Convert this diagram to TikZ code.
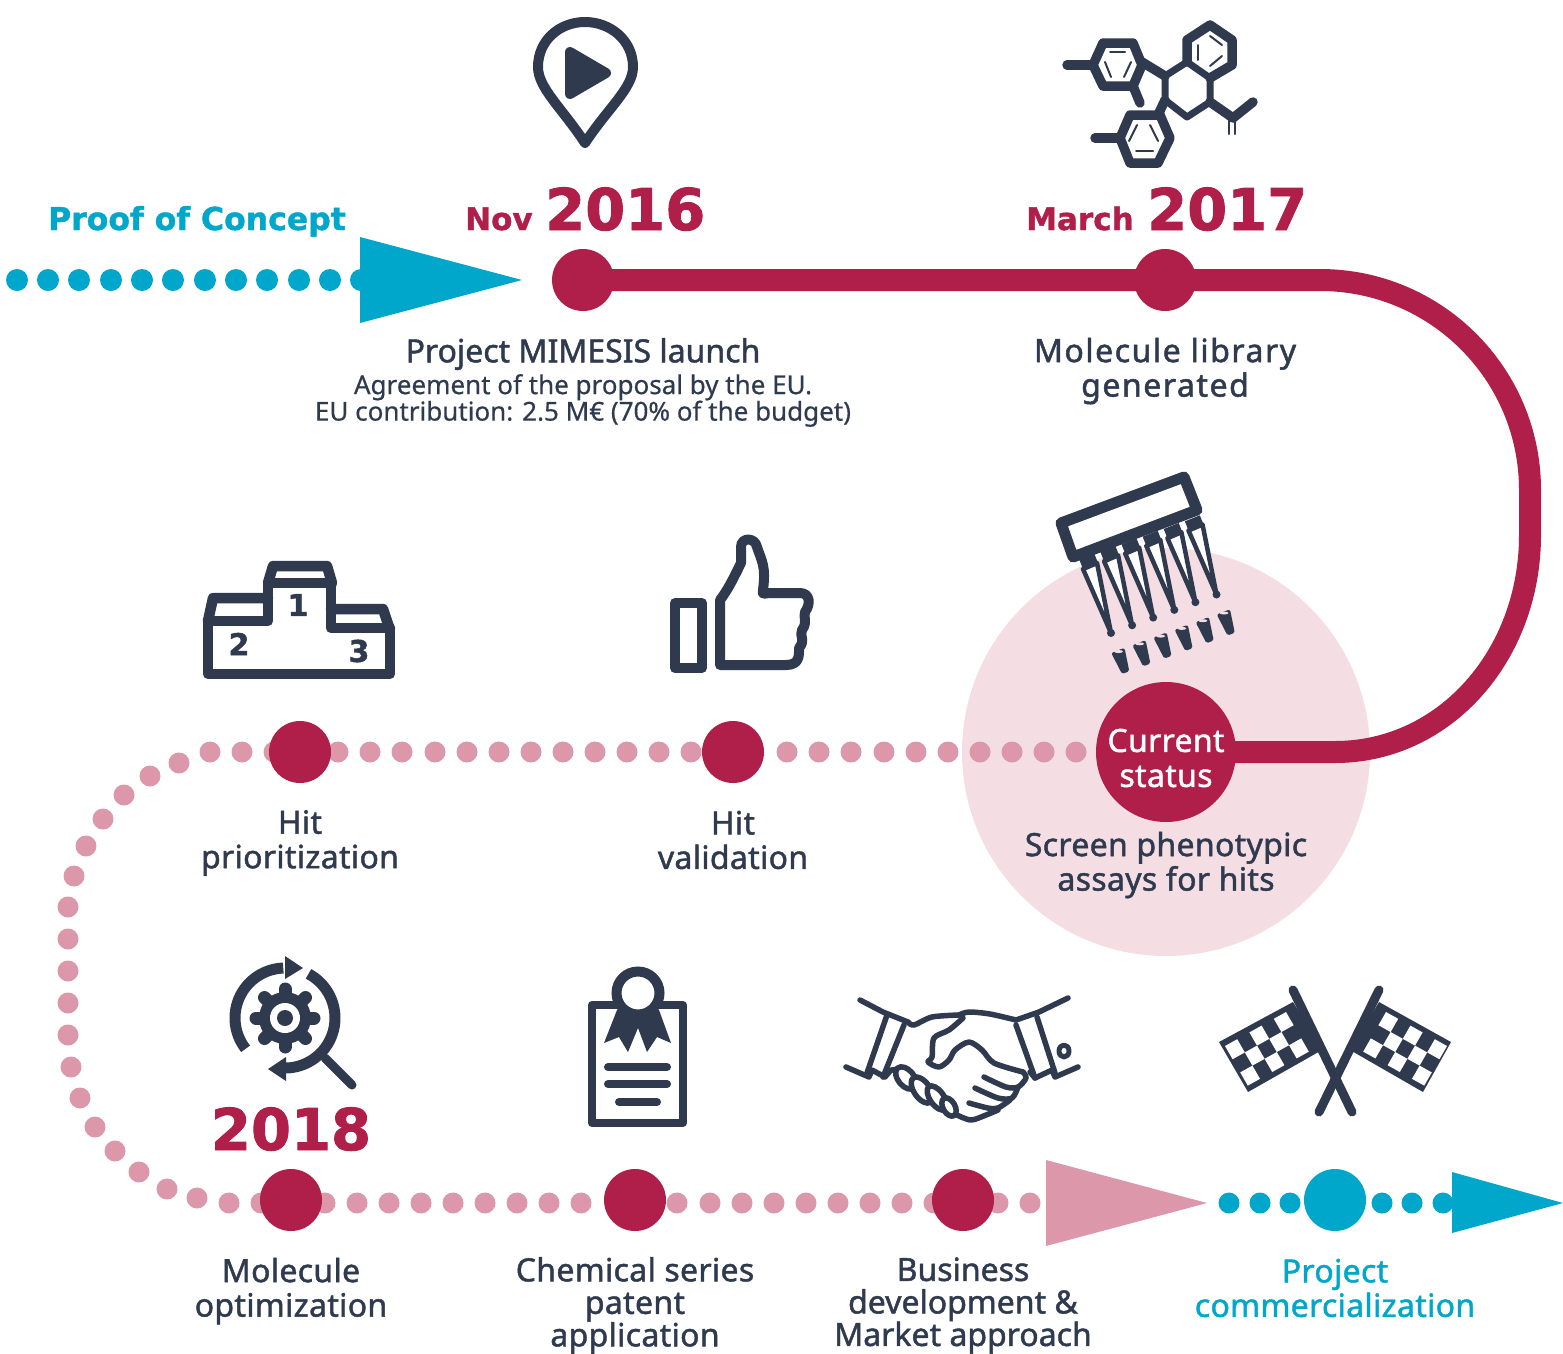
\documentclass[tikz,border=0pt]{standalone}
\usepackage{fontspec}
\setmainfont{Noto Sans}
\newfontfamily\labf{Noto Sans}[FakeBold=1.4,LetterSpace=1]
\newfontfamily\labn{Noto Sans}[FakeBold=1.4]
\newfontfamily\labw{Noto Sans}[FakeBold=1.6,LetterSpace=4.8]
\newfontfamily\subf{Noto Sans}[FakeBold=0.5]
\newfontfamily\headf{DejaVu Sans Bold}[FakeBold=1.2]
\newfontfamily\yearf{DejaVu Sans Bold}[FakeBold=1.5]
\usetikzlibrary{calc}
\definecolor{ink}{HTML}{2F3A4F}
\definecolor{crim}{HTML}{B01E4A}
\definecolor{teal2}{HTML}{00A7CB}
\definecolor{pinkd}{HTML}{DC97AA}
\definecolor{pinkb}{HTML}{F4DDE3}
\tikzset{
 mile/.style={circle,fill=crim,draw=none,minimum size=62pt,inner sep=0pt},
 milet/.style={circle,fill=teal2,draw=none,minimum size=62pt,inner sep=0pt},
 lab/.style={align=center,text=ink,font=\labf\fontsize{32}{34.5}\selectfont,inner sep=0pt},
 sublab/.style={align=center,text=ink,font=\subf\fontsize{26}{26.5}\selectfont,inner sep=0pt},
 yr/.style={text=crim,font=\yearf\fontsize{57.5}{60}\selectfont,inner sep=0pt,anchor=base west},
 mon/.style={text=crim,font=\headf\fontsize{31}{32}\selectfont,inner sep=0pt,anchor=base west},
 ic/.style={draw=ink,line width=8pt,line join=round,line cap=round},
 icf/.style={fill=ink,draw=ink,line join=round},
 thin/.style={draw=ink,line width=2pt,line cap=round},
 bond/.style={draw=ink,line width=9.5pt,line join=round,line cap=round},
 hs/.style={draw=ink,line width=5.5pt,line join=round,line cap=round},
}
\begin{document}
\begin{tikzpicture}[x=1pt,y=-1pt]
\useasboundingbox (0,0) rectangle (1563,1353);
% background disc
\fill[pinkb] (1166,752) circle (204pt);
% dotted tracks
\foreach \x in {17,48,79,111,142,173,205,236,267,299,330,361}{\fill[teal2] (\x,280) circle (11pt);}
\foreach \x in {1076,1044,1012,980,948,916,884,851,819,787,691,659,627,595,563,531,499,467,435,402,370,338,274,242,210}{\fill[pinkd] (\x,752) circle (10.5pt);}
\foreach \x/\y in {179/763,150/776,124/795,103/819,86/846,74/876,68/907,68/939,68/971,68/1003,68/1035,71/1067,80/1098,95/1127,115/1151,139/1172,167/1189,197/1198,229/1203,261/1203}{\fill[pinkd] (\x,\y) circle (10.5pt);}
\foreach \x in {325,357,389,421,453,485,517,549,581,677,710,742,774,806,838,870,902,934,998,1030}{\fill[pinkd] (\x,1203) circle (10.5pt);}
\foreach \x in {1229,1260,1290,1382,1412,1443}{\fill[teal2] (\x,1203) circle (10.5pt);}
% triangles
\coordinate (ta1) at (360,237);\coordinate (ta2) at (360,323);\coordinate (ta3) at (522,280);
\fill[teal2] (ta1)--(ta3)--(ta2)--cycle;
\fill[pinkd] (1046,1160)--(1207,1203)--(1046,1246)--cycle;
\fill[teal2] (1452,1172)--(1563,1203)--(1452,1233)--cycle;
% milestones
\coordinate (nv) at (583,280);\coordinate (mr) at (1165,280);\coordinate (cs) at (1166,752);
\draw[crim,line width=22pt] (nv)--(mr)--(1320,280) .. controls (1436,280) and (1530,374) .. (1530,490) -- (1530,535) .. controls (1530,655) and (1445,752) .. (1335,752) -- (cs);
\node[mile] (nov) at (nv) {};
\node[mile] (mar) at (mr) {};
\node[mile] (hp) at (300,752) {};
\node[mile] (hv) at (733,752) {};
\node[mile] (mo) at (291,1200) {};
\node[mile] (ch) at (635,1200) {};
\node[mile] (bd) at (963,1200) {};
\node[milet] (pc) at (1335,1200) {};
\node[circle,fill=crim,minimum size=140pt,inner sep=0pt] (cur) at (cs) {};
\node[text=white,align=center,font=\labf\fontsize{32}{35}\selectfont,inner sep=0pt] (curt) at (1166,758) {Current\\status};
% headings
\node[text=teal2,font=\headf\fontsize{31.5}{32}\selectfont,inner sep=0pt,anchor=base] (poc) at (197,230) {Proof of Concept};
\node[mon] (n1) at (465,230) {Nov};
\node[yr] (n2) at (545,230) {2016};
\node[mon] (m1) at (1026,230) {March};
\node[yr] (m2) at (1147,230) {2017};
\node[yr,anchor=base] (y18) at (291,1150) {2018};
% labels
\node[lab,font=\labn\fontsize{32}{34.5}\selectfont] (l1) at (583,354) {Project MIMESIS launch};
\node[sublab] (l1b) at (583,400.5) {Agreement of the proposal by the EU.\\EU contribution: 2.5 M€ (70\% of the budget)};
\node[lab,font=\labw\fontsize{32}{34.5}\selectfont] (l2) at (1165,371) {Molecule library\\generated};
\node[lab] (l3) at (300,843) {Hit\\prioritization};
\node[lab] (l4) at (733,840) {Hit\\validation};
\node[lab] (l5) at (1166,865) {Screen phenotypic\\assays for hits};
\node[lab] (l6) at (291,1291) {Molecule\\optimization};
\node[lab,font=\labf\fontsize{32}{32.5}\selectfont] (l7) at (635,1305.5) {Chemical series\\patent\\application};
\node[lab,font=\labn\fontsize{32}{32.5}\selectfont] (l8) at (963,1305.5) {Business\\development \&\\Market approach};
\node[lab,text=teal2] (l9) at (1335,1288) {Project\\commercialization};
% --- pin icon
\draw[ic,line width=10pt] (585,143) .. controls (562,108) and (538,88) .. (538,67) .. controls (538,40) and (560,22) .. (585,22) .. controls (610,22) and (633,40) .. (633,67) .. controls (633,88) and (608,108) .. (585,143);
\draw[icf,line width=10pt] (570,52)--(570,94)--(606,73)--cycle;
% --- molecule icon
\draw[bond] (1103,43)--(1133,43)--(1142,65)--(1133,86)--(1103,86)--(1093,65)--cycle;
\draw[bond] (1067,65)--(1093,65);
\draw[bond] (1142,62)--(1165,76);
\draw[bond] (1133,86)--(1140,103);
\draw[bond,line width=7pt] (1165,76)--(1187,62)--(1210,78)--(1210,102)--(1187,117)--(1165,100)--cycle;
\draw[bond] (1187,62)--(1187,40)--(1210,25)--(1232,40)--(1232,65)--(1210,78);
\draw[bond] (1210,102)--(1233,118)--(1253,102);
\draw[bond] (1165,100)--(1158,115);
\draw[bond] (1130,115)--(1160,115)--(1170,138)--(1158,163)--(1130,163)--(1120,138)--cycle;
\draw[bond] (1095,138)--(1120,138);
\draw[thin] (1110,52)--(1125,52);
\draw[thin] (1105,62)--(1111,77);
\draw[thin] (1131,62)--(1124,77);
\draw[thin] (1198,45)--(1198,60);
\draw[thin] (1210,36)--(1222,45);
\draw[thin] (1210,66)--(1222,56);
\draw[thin] (1137,125)--(1129,141);
\draw[thin] (1150,125)--(1158,141);
\draw[thin] (1136,151)--(1153,151);
\draw[thin] (1229,118)--(1229,134);
\draw[thin] (1235,118)--(1235,134);
% --- pipette icon
\draw[draw=ink,line width=11pt,line join=round,fill=white] (1061,523)--(1184,477)--(1197,510)--(1073,557)--cycle;
\foreach \i in {0,...,5}{
 \begin{scope}[shift={({21.1*\i},{-7.7*\i})}]
  \draw[draw=ink,line width=4.5pt,line join=round,fill=white] (1083,569)--(1097,563)--(1111,633)--cycle;
  \draw[ink,line width=9pt] (1081,564)--(1096,558);
  \fill[ink] (1111,633) circle (4pt);
  \draw[draw=ink,fill=ink,line width=4pt,line join=round] (1114,654)--(1123,650.5)--(1127,670)--(1123,671.5)--cycle;
  \fill[pinkb] (1118.5,651.5) ellipse (4.5pt and 1.5pt);
 \end{scope}
}
% --- podium icon
\draw[ic,line width=10.5pt,line cap=butt] (208,619)--(208,674)--(390,674)--(390,631);
\draw[ic,line width=10.5pt] (208,621)--(268,621)--(268,583)--(331,583)--(331,628)--(390,628);
\draw[ic,line width=10.5pt] (268,583)--(273,566)--(327,566)--(332,583);
\draw[ic,line width=10.5pt] (208,621)--(213,598)--(268,598);
\draw[ic,line width=10.5pt] (331,609)--(383,609)--(390,630);
\node[text=ink,font=\yearf\fontsize{30}{30}\selectfont,inner sep=0pt] (d1) at (298,605) {1};
\node[text=ink,font=\yearf\fontsize{30}{30}\selectfont,inner sep=0pt] (d2) at (239,644) {2};
\node[text=ink,font=\yearf\fontsize{30}{30}\selectfont,inner sep=0pt] (d3) at (359,651) {3};
% --- thumb icon
\draw[ic,line width=10pt,line cap=butt] (675,603) rectangle (702,668);
\draw[ic,line width=10pt] (720,665)--(720,600) .. controls (728,590) and (735,575) .. (741,563) -- (741,547) .. controls (741,537) and (755,537) .. (757,547) .. controls (762,562) and (766,566) .. (763,590) .. controls (762,596) and (764,593) .. (770,593) -- (800,593) .. controls (810,593) and (811,604) .. (805,612) .. controls (803,617) and (808,622) .. (802,630) .. controls (799,636) and (806,640) .. (799,648) .. controls (799,655) and (800,665) .. (786,665) -- cycle;
% --- gear/magnifier icon
\coordinate (g) at (285,1018);
\draw[ink,line width=11pt] plot[domain=92:218,samples=30] ({285+50*cos(\x)},{1018-50*sin(\x)});
\draw[ink,line width=11pt] plot[domain=62:-92,samples=40] ({285+50*cos(\x)},{1018-50*sin(\x)});
\fill[ink] (285,956) -- (303,968) -- (285,979) -- cycle;
\fill[ink] (286,1057) -- (268,1069) -- (286,1081) -- cycle;
\draw[ink,line width=9pt,line cap=round] (325,1058)--(352,1085);
\fill[ink] (g) circle (26pt);
\foreach \a in {0,45,...,315}{\draw[ink,line width=13pt,line cap=round] (g) ++(\a:24pt) -- ++(\a:5pt);}
\fill[white] (g) circle (15pt);
\fill[ink] (g) circle (8pt);
% --- certificate icon
\draw[ic,line join=round,line cap=butt,fill=white] (592,1005) rectangle (683,1123);
\fill[ink] (617,1010)--(604,1043)--(619,1037)--(628,1052)--(638,1028)--(647,1052)--(657,1037)--(671,1043)--(659,1010)--cycle;
\draw[draw=ink,line width=10pt,fill=white] (638,993) circle (21.5pt);
\draw[ic] (608,1067)--(667,1067);
\draw[ic] (608,1084)--(667,1084);
\draw[ic] (619,1102)--(657,1102);
% --- handshake icon
\draw[hs] (860,1000)--(883,1012)--(908,1022);
\draw[hs] (846,1067)--(869,1077)--(872,1070)--(885,1077)--(891,1070);
\draw[hs] (867,1073)--(887,1015);
\draw[hs] (883,1077)--(904,1025);
\draw[hs] (1068,998)--(1039,1012)--(1016,1020);
\draw[hs] (1078,1067)--(1055,1077)--(1052,1070)--(1035,1078)--(1030,1072);
\draw[hs] (1037,1017)--(1055,1073);
\draw[hs] (1016,1025)--(1035,1078);
\draw[hs,line width=5pt] (1064,1051) ellipse (5pt and 6pt);
\draw[hs] plot[smooth] coordinates {(908,1022)(914,1025)(932,1017)(959,1015)};
\draw[hs] plot[smooth] coordinates {(959,1015)(969,1012)(990,1014)(1016,1020)};
\draw[hs] plot[smooth] coordinates {(963,1018)(949,1030)(934,1038)(932,1057)(928,1062)(939,1067)(949,1060)(955,1050)(969,1042)(982,1050)(994,1063)(1023,1072)};
\draw[hs] plot[smooth] coordinates {(1023,1072)(1026,1078)(1018,1087)(1006,1087)(984,1077)};
\draw[hs] plot[smooth] coordinates {(1018,1087)(1012,1098)(998,1098)(975,1088)};
\draw[hs] plot[smooth] coordinates {(1010,1100)(998,1108)(988,1108)(969,1103)};
\draw[hs] plot[smooth] coordinates {(998,1110)(986,1115)(971,1120)(957,1115)};
\draw[hs] (892,1070)--(905,1068);
\draw[hs,fill=white,rotate around={40:(906,1078)}] (906,1078) ellipse (8pt and 13pt);
\draw[hs,fill=white,rotate around={35:(922,1090)}] (922,1090) ellipse (8pt and 15pt);
\draw[hs,fill=white,rotate around={35:(937,1098)}] (937,1098) ellipse (7pt and 14pt);
\draw[hs,fill=white,rotate around={30:(949,1107)}] (949,1107) ellipse (6pt and 10pt);
% --- flags icon
\fill[ink] (1293,1002)--(1219,1042)--(1248,1092)--(1322,1050)--cycle;
\fill[ink] (1379,1002)--(1451,1042)--(1423,1092)--(1350,1050)--cycle;
\draw[ic,line width=9pt] (1293,990)--(1352,1112);
\draw[ic,line width=9pt] (1379,990)--(1319,1112);
\foreach \i/\j in {0/0,2/0,4/0,1/1,3/1,0/2,2/2,4/2}{
 \fill[white] ({1286-12.2*\i+7.6*\j},{1012+6.8*\i+13.2*\j}) -- ++(-12.2,6.8) -- ++(7.6,13.2) -- ++(12.2,-6.8) -- cycle;
 \fill[white] ({1386+12.2*\i-7.6*\j},{1012+6.8*\i+13.2*\j}) -- ++(12.2,6.8) -- ++(-7.6,13.2) -- ++(-12.2,-6.8) -- cycle;
}
\end{tikzpicture}
\end{document}
